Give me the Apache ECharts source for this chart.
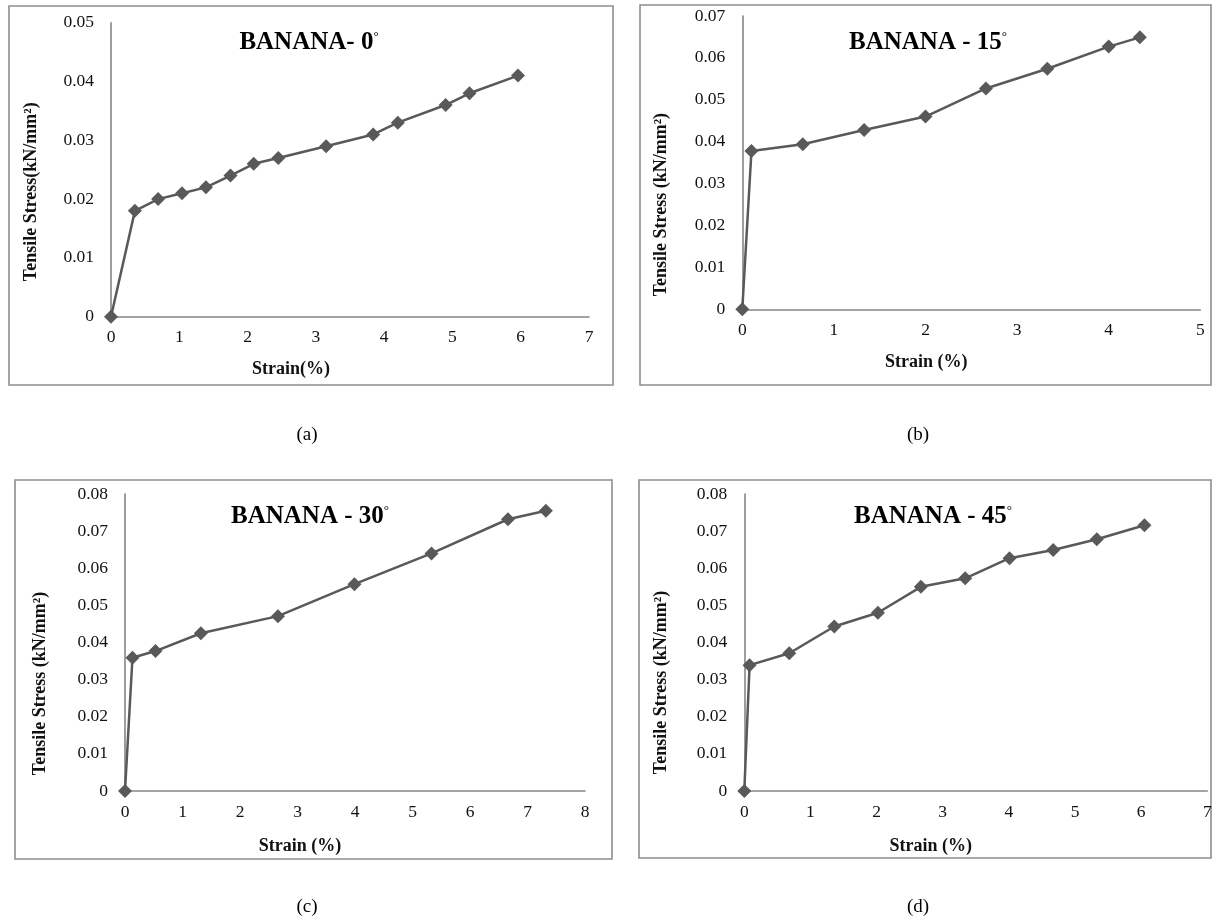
<!DOCTYPE html>
<html>
<head>
<meta charset="utf-8">
<script src="https://cdn.jsdelivr.net/npm/echarts@6/dist/echarts.min.js"></script>
<style>
  html, body { margin: 0; padding: 0; background: #ffffff; }
  #chart { width: 1222px; height: 924px; }
</style>
</head>
<body>
<div id="chart"></div>
<script>
// Tensile stress–strain data for banana fibre composites at four fibre angles
const strainA = [0, 0.35, 0.69, 1.04, 1.39, 1.75, 2.09, 2.45, 3.15, 3.84, 4.2, 4.9, 5.25, 5.96];
const stressA = [0, 0.018, 0.020, 0.021, 0.022, 0.024, 0.026, 0.027, 0.029, 0.031, 0.033, 0.036, 0.038, 0.041];

const strainB = [0, 0.1, 0.66, 1.33, 2.0, 2.66, 3.33, 4.0, 4.34];
const stressB = [0, 0.0378, 0.0394, 0.0428, 0.046, 0.0527, 0.0574, 0.0627, 0.0649];

const strainC = [0, 0.13, 0.53, 1.32, 2.66, 3.99, 5.33, 6.66, 7.32];
const stressC = [0, 0.0359, 0.0377, 0.0425, 0.0471, 0.0557, 0.064, 0.0732, 0.0755];

const strainD = [0, 0.08, 0.68, 1.36, 2.02, 2.67, 3.34, 4.01, 4.67, 5.33, 6.05];
const stressD = [0, 0.0339, 0.0371, 0.0443, 0.048, 0.055, 0.0573, 0.0627, 0.0649, 0.0678, 0.0716];

const panelTitles = ['BANANA- 0', 'BANANA - 15', 'BANANA - 30', 'BANANA - 45'];
const captions = ['(a)', '(b)', '(c)', '(d)'];
const xNames = ['Strain(%)', 'Strain (%)', 'Strain (%)', 'Strain (%)'];
const yNames = ['Tensile Stress(kN/mm\u00B2)', 'Tensile Stress (kN/mm\u00B2)', 'Tensile Stress (kN/mm\u00B2)', 'Tensile Stress (kN/mm\u00B2)'];
const xMax = [7, 5, 8, 7];
const yMax = [0.05, 0.07, 0.08, 0.08];

const FONT = '"Liberation Serif", "Times New Roman", serif';
const MARK = '#595959';
const AXIS = '#868686';

// plot rectangles and layout for the 2x2 panel arrangement
const grids = [
  { left: 111, top: 22.7, width: 478, height: 294 },
  { left: 742.3, top: 16, width: 458, height: 293.3 },
  { left: 125, top: 494, width: 460, height: 297 },
  { left: 744.3, top: 494, width: 463, height: 297 }
];
const frames = [
  { x: 9, y: 6, w: 604, h: 379 },
  { x: 640, y: 5, w: 571, h: 380 },
  { x: 15, y: 480, w: 597, h: 379 },
  { x: 639, y: 480, w: 572, h: 378 }
];
const titlePos = [[309, 43], [928, 43], [310, 517], [933, 517]];
const captionPos = [[307, 435], [918, 435], [307, 907], [918, 907]];
const xNameGap = [44, 44, 46, 46];
const xNameShift = [-59, -45, -55, -45];
const yNameGap = [71, 72, 76, 74];
const yNameShift = [22, 42, 41, 40];

const series = [[strainA, stressA], [strainB, stressB], [strainC, stressC], [strainD, stressD]];

const xAxes = [], yAxes = [], lines = [], graphics = [];
for (let i = 0; i < 4; i++) {
  xAxes.push({
    type: 'value', gridIndex: i, min: 0, max: xMax[i], interval: 1,
    name: xNames[i], nameLocation: 'middle', nameGap: xNameGap[i],
    nameTextStyle: {
      fontFamily: FONT, fontWeight: 'bold', fontSize: 18, color: '#111',
      padding: [0, Math.max(0, -2 * xNameShift[i]), 0, Math.max(0, 2 * xNameShift[i])]
    },
    axisLine: { show: true, onZero: false, lineStyle: { color: AXIS, width: 1.6 } },
    axisTick: { show: false },
    splitLine: { show: false },
    axisLabel: { fontFamily: FONT, fontSize: 17.5, color: '#111', margin: 12 }
  });
  yAxes.push({
    type: 'value', gridIndex: i, min: 0, max: yMax[i], interval: 0.01,
    name: yNames[i], nameLocation: 'middle', nameGap: yNameGap[i],
    nameTextStyle: {
      fontFamily: FONT, fontWeight: 'bold', fontSize: 18, color: '#111',
      padding: [0, 2 * yNameShift[i], 0, 0]
    },
    axisLine: { show: true, lineStyle: { color: AXIS, width: 1.6 } },
    axisTick: { show: false },
    splitLine: { show: false },
    axisLabel: {
      fontFamily: FONT, fontSize: 17.5, color: '#111', margin: 17,
      formatter: v => (v === 0 ? '0' : v.toFixed(2))
    }
  });
  const pts = series[i][0].map((x, k) => [x, series[i][1][k]]);
  lines.push({
    type: 'line', xAxisIndex: i, yAxisIndex: i, data: pts,
    symbol: 'diamond', symbolSize: 14, showSymbol: true,
    lineStyle: { color: MARK, width: 2.5 },
    itemStyle: { color: MARK },
    emphasis: { disabled: true },
    z: 3
  });
  graphics.push({
    type: 'rect', silent: true, z: -1,
    shape: { x: frames[i].x, y: frames[i].y, width: frames[i].w, height: frames[i].h },
    style: { fill: 'none', stroke: '#8e8e8e', lineWidth: 1.6 }
  });
  graphics.push({
    type: 'text', silent: true, x: titlePos[i][0], y: titlePos[i][1],
    style: {
      text: '{t|' + panelTitles[i] + '}{d|\u00B0}',
      align: 'center', verticalAlign: 'middle',
      rich: {
        t: { fontFamily: FONT, fontWeight: 'bold', fontSize: 25, fill: '#000' },
        d: { fontFamily: FONT, fontWeight: 'normal', fontSize: 13, fill: '#000', verticalAlign: 'top' }
      }
    }
  });
  graphics.push({
    type: 'text', silent: true, x: captionPos[i][0], y: captionPos[i][1],
    style: {
      text: captions[i], align: 'center', verticalAlign: 'middle',
      fontFamily: FONT, fontSize: 19, fill: '#000'
    }
  });
}

const chart = echarts.init(document.getElementById('chart'), null, { renderer: 'canvas' });
chart.setOption({
  backgroundColor: '#ffffff',
  animation: false,
  grid: grids,
  xAxis: xAxes,
  yAxis: yAxes,
  series: lines,
  graphic: graphics
});
</script>
</body>
</html>
